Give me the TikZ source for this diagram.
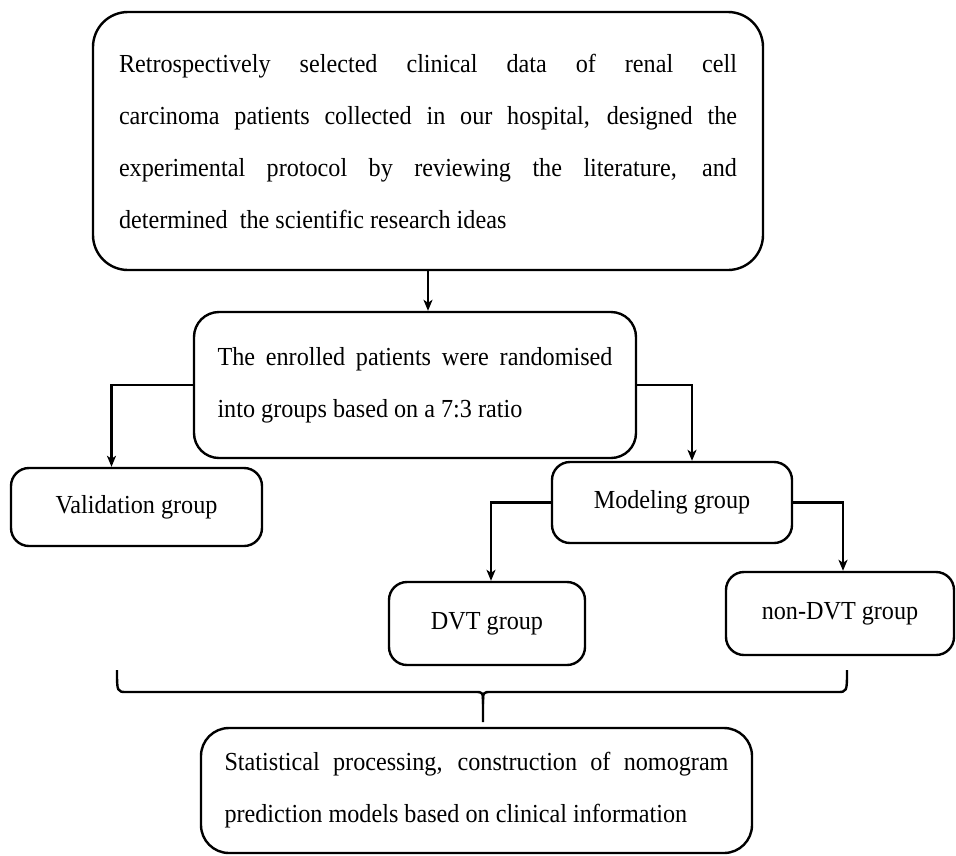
\documentclass[tikz,border=0pt]{standalone}
\usepackage{fontspec}
\setmainfont{Liberation Serif}[FakeStretch=0.93]
\usetikzlibrary{arrows.meta}
\tolerance=10000
\hbadness=10000

\begin{document}
\begin{tikzpicture}[
            x=1pt, y=-1pt,
            line width=2.4pt,
            every node/.style={inner sep=0pt, font=\fontsize{26}{52}\selectfont},
            box/.style={draw, rounded corners=#1},
            box/.default=18pt,
            arr/.style={-{Stealth[length=11pt,width=9pt,inset=3pt]}}
        ]
        \useasboundingbox (0,0) rectangle (956,855);
        \node[box=35pt, minimum width=670pt, minimum height=258pt] (Top) at (428,141) {};
        \node[text width=618pt, align=justify] (TopT) at (Top) {Retrospectively selected clinical data of renal cell\linebreak
            carcinoma patients collected in our hospital, designed the\linebreak
            experimental protocol by reviewing the literature, and\linebreak
            determined\ \ the scientific research ideas};
        \node[box=25pt, minimum width=442pt, minimum height=146pt] (Rand) at (415,385) {};
        \node[text width=395pt, align=justify] (RandT) at (Rand) {The enrolled patients were randomised\linebreak
            into groups based on a 7:3 ratio};
        \node[box, minimum width=251pt, minimum height=78pt] (Valid) at (136.5,507) {Validation group};
        \node[box, minimum width=240pt, minimum height=81pt] (Model) at (672,502.5) {Modeling group};
        \node[box, minimum width=196pt, minimum height=83pt] (DVT) at (487,623.5) {DVT group};
        \node[box, minimum width=228pt, minimum height=83pt] (nDVT) at (840,613.5) {non-DVT group};
        \node[box=28pt, minimum width=551pt, minimum height=125pt] (Stat) at (476.5,790.5) {};
        \node[text width=504pt, align=justify] (StatT) at (Stat) {Statistical processing, construction of nomogram\linebreak
            prediction models based on clinical information};
        % Arrows between boxes
        \draw[arr] (Top.south) -- (Top.south |- Rand.north);
        \draw[arr] (Rand.west) -| ([xshift=-25pt]Valid.north);
        \draw[arr] (Rand.east) -| ([xshift=20pt]Model.north);
        \foreach \grp/\side/\dx in {DVT/west/4pt, nDVT/east/3pt}
            \draw[arr] (Model.\side) -| ([xshift=\dx]\grp.north);
        % Brace over the groups
        \coordinate (BrL) at (117,670);
        \coordinate (BrR) at (847,670);
        \coordinate (BrM) at (483,722);
        \draw (BrL) .. controls (117,692) .. (127,692) -- (475,692)
            .. controls (483,692) .. (483,704) -- (BrM);
        \draw (BrR) .. controls (847,692) .. (837,692) -- (491,692)
            .. controls (483,692) .. (483,704);
\end{tikzpicture}
\end{document}
